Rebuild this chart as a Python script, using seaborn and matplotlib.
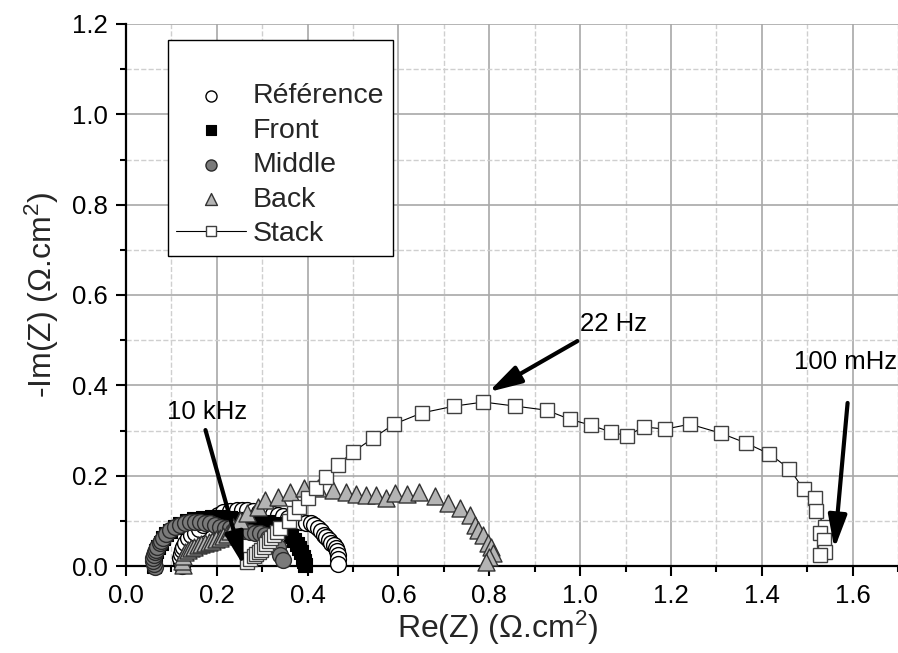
import pandas as pd
import numpy as np

import seaborn as sns
import matplotlib.pyplot as plt
from matplotlib.ticker import MultipleLocator

sns.set_style('whitegrid')
plt.rcParams['font.family'] = ['Liberation Sans', 'DejaVu Sans']
plt.rcParams['mathtext.fontset'] = 'custom'
plt.rcParams['mathtext.rm'] = 'Liberation Sans'
plt.rcParams['mathtext.it'] = 'Liberation Sans:italic'

# Nyquist data (Re(Z), -Im(Z) in ohm.cm2)
ref_x = [0.123, 0.121, 0.120, 0.121, 0.123, 0.126, 0.131, 0.137, 0.144, 0.152,
         0.161, 0.170, 0.180, 0.190, 0.202, 0.214, 0.230, 0.245, 0.256, 0.267,
         0.280, 0.292, 0.303, 0.314, 0.324, 0.334, 0.345, 0.356, 0.370, 0.385,
         0.396, 0.407, 0.415, 0.422, 0.429, 0.435, 0.441, 0.446, 0.452, 0.457,
         0.462, 0.465, 0.466, 0.466, 0.466]
ref_y = [0.000, 0.009, 0.018, 0.027, 0.035, 0.043, 0.051, 0.062, 0.068, 0.073,
         0.082, 0.091, 0.099, 0.106, 0.113, 0.120, 0.122, 0.124, 0.124, 0.124,
         0.122, 0.120, 0.118, 0.117, 0.115, 0.113, 0.110, 0.106, 0.101, 0.097,
         0.096, 0.095, 0.090, 0.084, 0.077, 0.069, 0.064, 0.058, 0.052, 0.046,
         0.040, 0.033, 0.025, 0.016, 0.005]

front_x = [0.062, 0.061, 0.062, 0.064, 0.067, 0.071, 0.076, 0.082, 0.089, 0.097,
           0.107, 0.120, 0.135, 0.150, 0.170, 0.190, 0.210, 0.230, 0.250, 0.270,
           0.290, 0.310, 0.330, 0.345, 0.355, 0.363, 0.370, 0.376, 0.381, 0.386,
           0.390, 0.393, 0.395]
front_y = [0.000, 0.008, 0.016, 0.025, 0.034, 0.043, 0.052, 0.061, 0.070, 0.078,
           0.086, 0.093, 0.099, 0.103, 0.106, 0.108, 0.108, 0.107, 0.105, 0.103,
           0.100, 0.097, 0.092, 0.085, 0.076, 0.067, 0.058, 0.049, 0.040, 0.030,
           0.020, 0.010, 0.002]

mid_x = [0.064, 0.061, 0.060, 0.060, 0.061, 0.063, 0.066, 0.069, 0.074, 0.078,
         0.082, 0.089, 0.097, 0.108, 0.119, 0.130, 0.141, 0.152, 0.164, 0.175,
         0.186, 0.197, 0.208, 0.219, 0.230, 0.241, 0.252, 0.263, 0.274, 0.285,
         0.296, 0.305, 0.312, 0.324, 0.334, 0.340, 0.345]
mid_y = [-0.003, 0.004, 0.010, 0.017, 0.024, 0.030, 0.036, 0.042, 0.050, 0.056,
         0.062, 0.071, 0.080, 0.086, 0.091, 0.095, 0.097, 0.098, 0.097, 0.096,
         0.095, 0.091, 0.086, 0.085, 0.084, 0.082, 0.080, 0.078, 0.075, 0.074,
         0.073, 0.068, 0.062, 0.052, 0.042, 0.024, 0.013]

back_x = [0.125, 0.124, 0.126, 0.130, 0.136, 0.143, 0.150, 0.158, 0.166, 0.174,
          0.182, 0.190, 0.198, 0.206, 0.214, 0.222, 0.230, 0.236, 0.252, 0.267,
          0.290, 0.307, 0.334, 0.362, 0.391, 0.422, 0.455, 0.484, 0.506, 0.528,
          0.550, 0.572, 0.592, 0.619, 0.645, 0.681, 0.709, 0.736, 0.758, 0.769,
          0.776, 0.787, 0.798, 0.804, 0.809, 0.800, 0.793]
back_y = [0.002, 0.012, 0.022, 0.030, 0.036, 0.040, 0.043, 0.046, 0.048, 0.051,
          0.053, 0.056, 0.059, 0.062, 0.066, 0.071, 0.078, 0.086, 0.102, 0.117,
          0.131, 0.146, 0.153, 0.164, 0.173, 0.173, 0.168, 0.164, 0.159, 0.157,
          0.157, 0.151, 0.162, 0.159, 0.164, 0.155, 0.139, 0.128, 0.113, 0.091,
          0.080, 0.069, 0.051, 0.042, 0.029, 0.020, 0.009]

stack_x = [0.267, 0.274, 0.281, 0.287, 0.292, 0.298, 0.303, 0.309, 0.314, 0.320,
           0.325, 0.333, 0.340, 0.358, 0.369, 0.380, 0.400, 0.418, 0.440, 0.466,
           0.499, 0.544, 0.590, 0.652, 0.723, 0.787, 0.857, 0.926, 0.977, 1.023,
           1.067, 1.103, 1.140, 1.187, 1.242, 1.310, 1.366, 1.417, 1.461, 1.492,
           1.518, 1.520, 1.540, 1.529, 1.538, 1.540, 1.529]
stack_y = [0.009, 0.015, 0.022, 0.027, 0.031, 0.036, 0.042, 0.048, 0.055, 0.062,
           0.069, 0.076, 0.084, 0.100, 0.117, 0.131, 0.151, 0.173, 0.197, 0.224,
           0.252, 0.283, 0.314, 0.339, 0.354, 0.363, 0.354, 0.345, 0.325, 0.312,
           0.297, 0.288, 0.308, 0.303, 0.314, 0.294, 0.272, 0.248, 0.215, 0.170,
           0.150, 0.122, 0.086, 0.073, 0.058, 0.031, 0.024]

# frequency annotations: (label, text pos, alignment, arrow start, arrow tip)
annotations = [
    ('10 kHz', (0.178, 0.340), 'center', (0.175, 0.301), (0.259, 0.0)),
    ('22 Hz', (1.000, 0.536), 'left', (0.994, 0.498), (0.798, 0.385)),
    ('100 mHz', (1.585, 0.452), 'center', (1.589, 0.361), (1.560, 0.038)),
]

ref_df = pd.DataFrame({'Re': ref_x, 'Im': ref_y})
front_df = pd.DataFrame({'Re': front_x, 'Im': front_y})
mid_df = pd.DataFrame({'Re': mid_x, 'Im': mid_y})
back_df = pd.DataFrame({'Re': back_x, 'Im': back_y})
stack_df = pd.DataFrame({'Re': stack_x, 'Im': stack_y})

fig = plt.figure(figsize=(8.98, 6.53), dpi=100)
ax = fig.add_axes([126 / 898, 1 - 566 / 653, 772 / 898, 542 / 653])

sns.scatterplot(data=ref_df, x='Re', y='Im', ax=ax, marker='o', s=130,
                color='white', edgecolor='black', linewidth=1.0,
                label='Référence', clip_on=False, zorder=3)
sns.scatterplot(data=front_df, x='Re', y='Im', ax=ax, marker='s', s=95,
                color='black', edgecolor='black', linewidth=0.8,
                label='Front', clip_on=False, zorder=3)
sns.scatterplot(data=mid_df, x='Re', y='Im', ax=ax, marker='o', s=130,
                color='#7a7a7a', edgecolor='#2a2a2a', linewidth=1.0,
                label='Middle', clip_on=False, zorder=3)
sns.scatterplot(data=back_df, x='Re', y='Im', ax=ax, marker='^', s=150,
                color='#b4b4b4', edgecolor='#333333', linewidth=1.0,
                label='Back', clip_on=False, zorder=3)
sns.lineplot(data=stack_df, x='Re', y='Im', ax=ax, sort=False, estimator=None,
             color='black', linewidth=0.8, marker='s', markersize=9.5,
             markerfacecolor='white', markeredgecolor='#404040',
             markeredgewidth=1.0, label='Stack', clip_on=False, zorder=3)

for text, tpos, ha, start, tip in annotations:
    ax.annotate('', xy=tip, xytext=start,
                arrowprops=dict(arrowstyle='-|>,head_length=1.0,head_width=0.28',
                                color='black', lw=3, mutation_scale=20,
                                shrinkA=0, shrinkB=0), zorder=5)
    ax.text(tpos[0], tpos[1], text, ha=ha, va='center', fontsize=18.5,
            color='black', zorder=5)

ax.set_xlim(0, 1.7)
ax.set_ylim(0, 1.2)
ax.xaxis.set_major_locator(MultipleLocator(0.2))
ax.xaxis.set_minor_locator(MultipleLocator(0.1))
ax.yaxis.set_major_locator(MultipleLocator(0.2))
ax.yaxis.set_minor_locator(MultipleLocator(0.1))
ax.xaxis.set_major_formatter(plt.FormatStrFormatter('%.1f'))
ax.yaxis.set_major_formatter(plt.FormatStrFormatter('%.1f'))

ax.grid(True, which='major', color='#a8a8a8', linestyle='-', linewidth=1.2)
ax.grid(True, which='minor', color='#cfcfcf', linestyle='--', linewidth=1.0)
ax.set_axisbelow(True)

for side in ['top', 'right']:
    ax.spines[side].set_visible(False)
for side in ['left', 'bottom']:
    ax.spines[side].set_color('black')
    ax.spines[side].set_linewidth(1.6)

ax.tick_params(which='both', direction='out', bottom=True, left=True,
               color='black', width=1.5, labelsize=18.5, labelcolor='black')
ax.tick_params(which='major', length=7, pad=6)
ax.tick_params(which='minor', length=4)

ax.set_xlabel('Re(Z) (Ω.cm$^2$)', fontsize=23)
ax.set_ylabel('-Im(Z) (Ω.cm$^2$)', fontsize=23, labelpad=8)
ax.xaxis.set_label_coords(0.481, -0.079)

leg = ax.legend(loc='upper left', bbox_to_anchor=(0.054, 0.9705), title=' ',
                fontsize=20.5, title_fontsize=20.5, frameon=True, fancybox=False,
                framealpha=1, edgecolor='black', handlelength=2.45,
                handletextpad=0.25, labelspacing=0.3, borderpad=0.3,
                borderaxespad=0, markerscale=0.7)
leg.get_frame().set_linewidth(1.0)

plt.savefig('out.png', dpi=100)
